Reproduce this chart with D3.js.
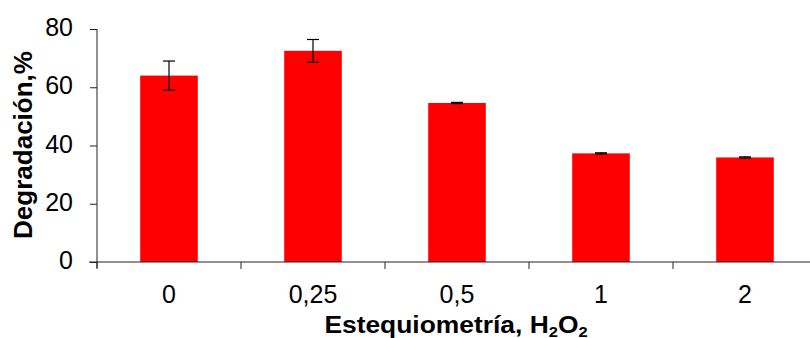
<!DOCTYPE html>
<html><head><meta charset="utf-8">
<script src="https://cdn.jsdelivr.net/npm/d3@7"></script>
<style>body{margin:0;background:#fff}svg{display:block}text{font-family:"Liberation Sans",Arial,sans-serif}</style>
</head><body>
<svg id="c" width="810" height="338"></svg>
<script>
const categories = ["0", "0,25", "0,5", "1", "2"];
const values = [64.0, 72.5, 54.6, 37.3, 35.9];
const errors = [5.0, 3.9, 0.2, 0.2, 0.2];
const yTicks = [0, 20, 40, 60, 80];

(function () {
const svg = d3.select("#c");
const mL = 97, mR = 817, mT = 29, mB = 262;
const x = d3.scaleBand().domain(categories).range([mL, mR]).paddingInner(0.6).paddingOuter(0.3);
const y = d3.scaleLinear().domain([0, 80]).range([mB, mT]);

// bars
svg.selectAll("rect.bar").data(values).join("rect")
  .attr("x", (d, i) => x(categories[i]))
  .attr("y", d => y(d))
  .attr("width", x.bandwidth())
  .attr("height", d => y(0) - y(d))
  .attr("fill", "#ff0000");

// error bars
const eb = svg.append("g").attr("stroke", "#000").attr("stroke-width", 1.2);
values.forEach((v, i) => {
  const cx = x(categories[i]) + x.bandwidth() / 2;
  const hi = y(v + errors[i]), lo = y(v - errors[i]);
  eb.append("line").attr("x1", cx).attr("x2", cx).attr("y1", hi).attr("y2", lo);
  eb.append("line").attr("x1", cx - 6).attr("x2", cx + 6).attr("y1", hi).attr("y2", hi);
  eb.append("line").attr("x1", cx - 6).attr("x2", cx + 6).attr("y1", lo).attr("y2", lo);
});

// y axis
const yAxis = svg.append("g").attr("transform", `translate(${mL},0)`)
  .call(d3.axisLeft(y).tickValues(yTicks).tickSize(7).tickFormat(""));
yAxis.select(".domain").attr("d", `M0,${mT}V${mB+6}`).attr("stroke", "#222");
yAxis.selectAll("line").attr("stroke", "#222");
svg.selectAll("text.yl").data(yTicks).join("text").attr("class", "yl")
  .attr("x", 73).attr("y", d => y(d) + 7)
  .attr("text-anchor", "end").attr("font-size", 25).attr("fill", "#000").text(d => d);

// x axis
const xAxis = svg.append("g").attr("transform", `translate(0,${mB})`);
xAxis.append("line").attr("x1", mL - 8).attr("x2", 810).attr("y1", 0).attr("y2", 0).attr("stroke", "#222");
const bounds = d3.range(categories.length + 1).map(i => mL + i * (mR - mL) / categories.length);
xAxis.selectAll("line.t").data(bounds).join("line").attr("class", "t")
  .attr("x1", d => d).attr("x2", d => d).attr("y1", 0).attr("y2", 7).attr("stroke", "#222");
xAxis.selectAll("text.l").data(categories).join("text").attr("class", "l")
  .attr("x", d => x(d) + x.bandwidth() / 2).attr("y", 41)
  .attr("text-anchor", "middle").attr("font-size", 25).attr("fill", "#000").text(d => d);

// titles
const xt = svg.append("text").attr("transform", "translate(456,333) scale(1.1,1)").attr("text-anchor", "middle")
  .attr("font-size", 24).attr("font-weight", "bold").attr("fill", "#000");
xt.append("tspan").text("Estequiometría, H");
xt.append("tspan").attr("font-size", 15).attr("dy", 3.5).text("2");
xt.append("tspan").attr("dy", -3.5).text("O");
xt.append("tspan").attr("font-size", 15).attr("dy", 3.5).text("2");

svg.append("text").attr("transform", `translate(32,145) rotate(-90)`)
  .attr("text-anchor", "middle").attr("font-size", 26).attr("font-weight", "bold").attr("fill", "#000")
  .text("Degradación,%");
})();
</script>
</body></html>
